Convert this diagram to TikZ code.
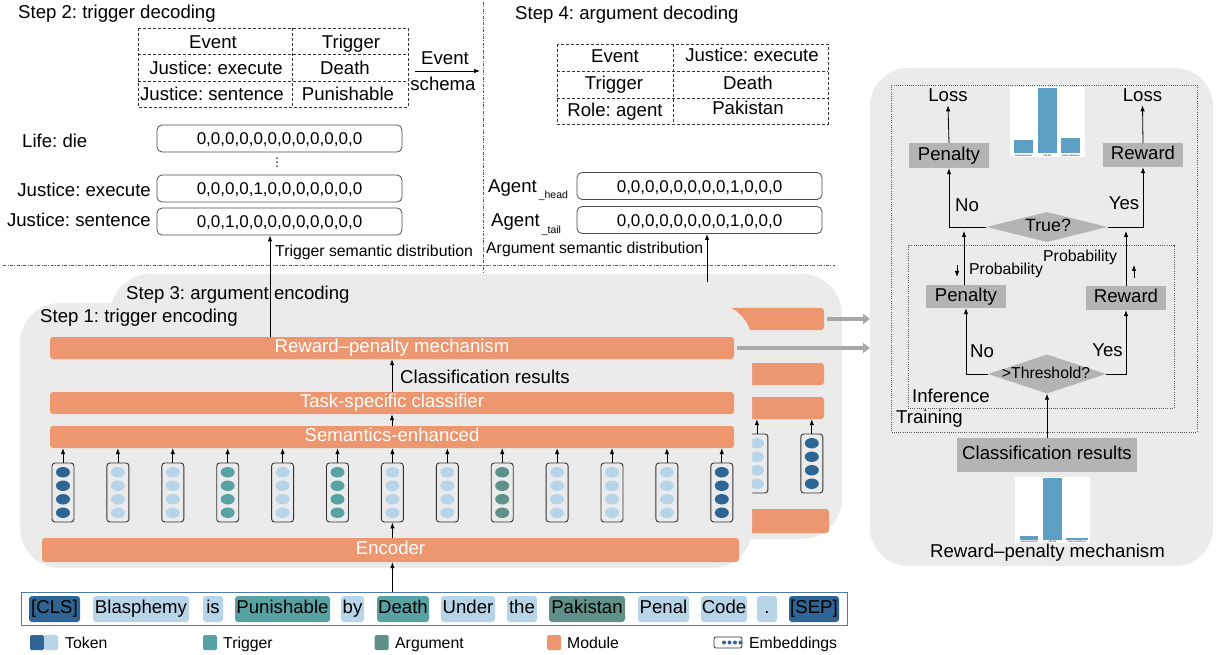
\documentclass[tikz,border=0pt]{standalone}
\usepackage{fontspec}
\setmainfont{Liberation Sans}
\newfontfamily\dejavu{DejaVu Sans}
\frenchspacing
\usetikzlibrary{arrows.meta,shapes.geometric,calc}
\definecolor{panel}{HTML}{EBEBEB}
\definecolor{module}{HTML}{EC976F}
\definecolor{tokdark}{HTML}{2F6594}
\definecolor{toklight}{HTML}{B8D4E8}
\definecolor{trig}{HTML}{58A2A3}
\definecolor{argc}{HTML}{5F918A}
\definecolor{boxgray}{HTML}{B4B4B4}
\definecolor{arrgray}{HTML}{A8A8A8}
\definecolor{rowblue}{HTML}{4F7AAE}
\definecolor{barblue}{HTML}{5C9FC2}
\newcommand{\bigf}{\fontsize{18.6}{21}\selectfont}
\newcommand{\smallf}{\fontsize{15.8}{18}\selectfont}
\newcommand{\digf}{\fontsize{17}{19}\selectfont}
\newcommand{\subf}{\fontsize{10.5}{12}\selectfont}
\newcommand{\tinyf}{\fontsize{2.4}{3}\selectfont}
\tikzset{
  txt/.style={font=\bigf, inner sep=0pt},
  stxt/.style={font=\smallf, inner sep=0pt},
  tall/.style={text height=13.4pt, text depth=3.9pt},
  modbar/.style={fill=module, rounded corners=3pt, text=white, font=\bigf, inner sep=0pt, tall},
  vecbox/.style={draw=black!70, line width=0.8pt, rounded corners=5pt, fill=white, font=\digf, inner sep=0pt, text height=12.2pt, text depth=0pt, minimum width=245pt, minimum height=27pt},
  embbox/.style={draw=black!80, line width=0.9pt, rounded corners=3pt, minimum width=22pt, minimum height=59pt, inner sep=0pt},
  bead/.style={ellipse, minimum width=14pt, minimum height=10.5pt, inner sep=0pt},
  chip/.style={rounded corners=3pt, font=\bigf, inner sep=0pt, tall, minimum height=26pt},
  graybox/.style={fill=boxgray, font=\bigf, inner sep=0pt, tall},
  decision/.style={diamond, fill=boxgray, inner sep=0pt},
  ar/.style={-{Latex[length=6pt,width=4.5pt]}, line width=0.8pt},
  garr/.style={draw=arrgray, line width=4pt, -{Triangle[length=7pt,width=10pt]}},
  divline/.style={draw=black!65, line width=0.6pt, dash pattern=on 3pt off 1.5pt on 0.8pt off 1.5pt},
  tabline/.style={draw=black!80, line width=0.8pt, dash pattern=on 3pt off 2pt},
  dotbox/.style={draw=black!65, line width=0.6pt, dash pattern=on 1pt off 1.2pt},
  legsq/.style={rounded corners=1.5pt, minimum width=14pt, minimum height=15pt, inner sep=0pt},
}
\begin{document}
\begin{tikzpicture}[x=1pt,y=-1pt]
\useasboundingbox (0,0) rectangle (1219,655);

% ---------- dividers ----------
\coordinate (vtop) at (483,2);
\coordinate (vbot) at (483,276);
\draw[divline] (vtop) -- (vbot);
\coordinate (hleft) at (3,265);
\coordinate (hright) at (835,265);
\draw[divline] (hleft) -- (hright);

% ---------- back panel (step 3) ----------
\begin{scope}[shift={(90,-29)}]
  \fill[panel, rounded corners=40pt] (20,303) rectangle (752,568);
  \node[modbar, minimum width=684pt, minimum height=22pt] (brp) at (392,348) {};
  \node[modbar, minimum width=684pt, minimum height=22pt] (bts) at (392,403) {};
  \node[modbar, minimum width=684pt, minimum height=22pt] (bse) at (392,437) {};
  \node[modbar, minimum width=697pt, minimum height=24pt] (benc) at (390.5,550) {};
  \foreach \i/\c in {0/tokdark,1/toklight,2/toklight,3/trig,4/toklight,5/trig,6/toklight,7/toklight,8/argc,9/toklight,10/toklight,11/toklight,12/tokdark}{
    \node[embbox] (be\i) at ({63+54.9*\i},492.5) {};
    \foreach \d [count=\k] in {-20.25,-6.75,6.75,20.25}
      \node[bead, fill=\c] (be\i b\k) at ($(be\i)+(0,\d)$) {};
    \draw[ar] (be\i.north) -- (be\i.north |- bse.south);
  }
  \draw[ar] (be6.south |- benc.north) -- (be6.south);
  \draw[ar] (bse.north) -- (bts.south);
  \draw[ar] (bts.north) -- (brp.south);
\end{scope}
\coordinate (rpin0) at (870,319);
\draw[garr] ($(brp.east)+(3,0)$) -- (rpin0);

% ---------- front panel (step 1) ----------
\fill[panel, rounded corners=40pt] (20,303) rectangle (752,568);
\node[txt, anchor=base west] (s3) at (126,299) {Step 3: argument encoding};
\node[txt, anchor=base west] (s1) at (40,323) {Step 1: trigger encoding};
\node[modbar, minimum width=684pt, minimum height=22pt] (rp) at (392,348) {Reward–penalty mechanism};
\node[modbar, minimum width=684pt, minimum height=22pt] (ts) at (392,403) {Task-specific classifier};
\node[modbar, minimum width=684pt, minimum height=22pt] (se) at (392,437) {Semantics-enhanced};
\node[modbar, minimum width=697pt, minimum height=24pt] (enc) at (390.5,550) {Encoder};
\foreach \i/\c in {0/tokdark,1/toklight,2/toklight,3/trig,4/toklight,5/trig,6/toklight,7/toklight,8/argc,9/toklight,10/toklight,11/toklight,12/tokdark}{
  \node[embbox] (e\i) at ({63+54.9*\i},492.5) {};
  \foreach \d [count=\k] in {-20.25,-6.75,6.75,20.25}
    \node[bead, fill=\c] (e\i b\k) at ($(e\i)+(0,\d)$) {};
  \draw[ar] (e\i.north) -- (e\i.north |- se.south);
}
\draw[ar] (e6.south |- enc.north) -- (e6.south);
\draw[ar] (se.north) -- (ts.south);
\draw[ar] (ts.north) -- (rp.south);
\node[txt, anchor=base west] (clsres) at (400,383) {Classification results};
\coordinate (rpin1) at (870,348);
\draw[garr] ($(rp.east)+(3,0)$) -- (rpin1);

% ---------- top left: trigger decoding ----------
\node[txt, anchor=base west] (s2) at (18,19) {Step 2: trigger decoding};
\draw[tabline] (138,28) rectangle (408,107);
\draw[tabline] (292,28) -- (292,107);
\draw[tabline] (138,54) -- (408,54);
\draw[tabline] (138,81) -- (408,81);
\node[txt, anchor=base] (t1a) at (213,49) {Event};
\node[txt, anchor=base] (t1b) at (351,49) {Trigger};
\node[txt, anchor=base] (t1c) at (216,75) {Justice: execute};
\node[txt, anchor=base] (t1d) at (345,75) {Death};
\node[txt, anchor=base] (t1e) at (212,101) {Justice: sentence};
\node[txt, anchor=base] (t1f) at (348,101) {Punishable};
\coordinate (es1) at (415,71);
\coordinate (es2) at (480,71);
\draw[ar] (es1) -- (es2);
\node[txt, anchor=base] (esa) at (445,65) {Event};
\node[txt, anchor=base] (esb) at (443,91) {schema};

\node[txt, anchor=base west] (ld) at (22,148) {Life: die};
\node[vecbox] (tv1) at (279.5,138.5) {0,0,0,0,0,0,0,0,0,0,0,0};
\node[inner sep=0pt, font=\dejavu\fontsize{12}{12}\selectfont] (vd) at (277,163) {⋮};
\node[vecbox] (tv2) at (279.5,188.5) {0,0,0,0,1,0,0,0,0,0,0,0};
\node[vecbox] (tv3) at (279.5,221.5) {0,0,1,0,0,0,0,0,0,0,0,0};
\node[txt, anchor=base east] (je) at (151,197) {Justice: execute};
\node[txt, anchor=base east] (js) at (151,227) {Justice: sentence};
\node[stxt, anchor=base west] (tsd) at (275,257) {Trigger semantic distribution};
\coordinate (tx) at (270,0);
\draw[ar] (rp.north -| tx) -- (tv3.south -| tx);

% ---------- top right: argument decoding ----------
\node[txt, anchor=base west] (s4) at (515,20) {Step 4: argument decoding};
\draw[tabline] (557,44) rectangle (828,124);
\draw[tabline] (673,44) -- (673,124);
\draw[tabline] (557,71) -- (828,71);
\draw[tabline] (557,98) -- (828,98);
\node[txt, anchor=base] (t2a) at (615,63) {Event};
\node[txt, anchor=base] (t2b) at (752,62) {Justice: execute};
\node[txt, anchor=base] (t2c) at (614,90) {Trigger};
\node[txt, anchor=base] (t2d) at (748,90) {Death};
\node[txt, anchor=base] (t2e) at (615,117) {Role: agent};
\node[txt, anchor=base] (t2f) at (748,115) {Pakistan};

\node[vecbox] (av1) at (699.5,186) {0,0,0,0,0,0,0,0,1,0,0,0};
\node[vecbox] (av2) at (699.5,220) {0,0,0,0,0,0,0,0,1,0,0,0};
\node[txt, anchor=base west] (ah) at (488,193) {Agent\kern2pt\raisebox{-6pt}{\subf\_head}};
\node[txt, anchor=base west] (at) at (491,227) {Agent\kern2pt\raisebox{-7pt}{\subf\_tail}};
\node[stxt, anchor=base west] (asd) at (486,254) {Argument semantic distribution};
\coordinate (ax) at (707,282);
\draw[ar] (ax) -- (av2.south -| ax);

% ---------- right panel ----------
\node[fill=panel, rounded corners=38pt, minimum width=343pt, minimum height=498pt, inner sep=0pt] (rpanel) at (1041.5,317) {};
\draw[dotbox] (891,85) rectangle (1197,432);
\draw[dotbox] (908,245) rectangle (1174,408);
\fill[white] (1010,87) rectangle (1085,157);
\fill[barblue] (1014,140) rectangle (1033,153);
\fill[barblue] (1038,88) rectangle (1057,153);
\fill[barblue] (1061,138) rectangle (1080,153);
\node[font=\tinyf, inner sep=0pt] (c1a) at (1023.5,155.3) {Justice Execute};
\node[font=\tinyf, inner sep=0pt] (c1b) at (1047.5,155.3) {Life Die};
\node[font=\tinyf, inner sep=0pt] (c1c) at (1070.5,155.3) {Justice Sentence};

\node[graybox, minimum width=80pt, minimum height=25pt] (pen1) at (949,155.5) {Penalty};
\node[graybox, minimum width=80pt, minimum height=24pt] (rew1) at (1143,155) {Reward};
\node[txt, anchor=base] (loss1) at (948,102) {Loss};
\node[txt, anchor=base] (loss2) at (1142.5,102) {Loss};
\draw[ar] (pen1.north) -- ($(loss1.south)+(0,3)$);
\draw[ar] (rew1.north) -- ($(loss2.south)+(0,3)$);
\node[decision, minimum width=121pt, minimum height=30pt] (truedec) at (1047,227) {};
\node[inner sep=0pt, font=\fontsize{17.8}{20}\selectfont, tall] (truetxt) at (1048,227) {True?};
\draw[ar] (truedec.west) -| (pen1.south);
\draw[ar] (truedec.east) -| (rew1.south);
\node[txt, anchor=base] (no1) at (967,212) {No};
\node[txt, anchor=base] (yes1) at (1124,210) {Yes};

\node[graybox, minimum width=80pt, minimum height=23pt] (pen2) at (966,296.5) {Penalty};
\node[graybox, minimum width=80pt, minimum height=24pt] (rew2) at (1126,298) {Reward};
\draw[ar] ($(pen2.north)+(-2,0)$) -- ($(pen2.north |- truedec.west)+(-2,4)$);
\draw[ar] (rew2.north) -- ($(rew2.north |- truedec.east)+(0,4)$);
\node[stxt, anchor=base west] (prob1) at (969,275) {Probability};
\node[stxt, anchor=base west] (prob2) at (1043,262) {Probability};
\coordinate (pa1) at (957,265);
\coordinate (pa2) at (957,277);
\draw[ar] (pa1) -- (pa2);
\coordinate (pb1) at (1134,278);
\coordinate (pb2) at (1134,265);
\draw[ar] (pb1) -- (pb2);
\node[decision, minimum width=118pt, minimum height=39pt] (thr) at (1047,374) {};
\node[stxt, tall] (thrtxt) at (1046,374) {>Threshold?};
\draw[ar] (thr.west) -| (pen2.south);
\draw[ar] (thr.east) -| (rew2.south);
\node[txt, anchor=base] (no2) at (982,357) {No};
\node[txt, anchor=base] (yes2) at (1107.5,356) {Yes};
\node[txt, anchor=base west] (inf) at (912,402) {Inference};
\node[txt, anchor=base west] (trn) at (896,423) {Training};
\node[graybox, minimum width=180pt, minimum height=34pt] (crbox) at (1047,455) {Classification results};
\draw[ar] (crbox.north) -- (thr.south);
\fill[white] (1015,477) rectangle (1090,543);
\fill[barblue] (1020,536) rectangle (1038,540);
\fill[barblue] (1043,478) rectangle (1062,540);
\fill[barblue] (1066,538) rectangle (1088,540);
\node[font=\tinyf, inner sep=0pt] (c2a) at (1029,541.6) {Justice Execute};
\node[font=\tinyf, inner sep=0pt] (c2b) at (1052.5,541.6) {Life Die};
\node[font=\tinyf, inner sep=0pt] (c2c) at (1077,541.6) {Justice Sentence};
\node[txt, anchor=base] (rpm) at (1047.5,557) {Reward–penalty mechanism};

% ---------- token row ----------
\node[draw=rowblue, line width=1pt, fill=white, minimum width=826pt, minimum height=33pt, inner sep=0pt] (row) at (434,608.5) {};
\foreach \n/\t/\a/\b/\c in {cls/{[CLS]}/29/80/tokdark, w1/Blasphemy/93/189/toklight, w2/is/203/223/toklight, w3/Punishable/235/330/trig, w4/by/341/364/toklight, w5/Death/377/429/trig, w6/Under/441/495/toklight, w7/the/507/537/toklight, w8/Pakistan/549/625/argc, w9/Penal/638/689/toklight, w10/Code/701/747/toklight, w11/./757/777/toklight, sep/{[SEP]}/789/839/tokdark}
  \node[chip, fill=\c, minimum width={(\b-\a)*1pt}] (\n) at ({(\a+\b)/2},609) {\t};
\draw[ar] (e6.south |- row.north) -- (e6.south |- enc.south);

% ---------- legend ----------
\node[legsq, fill=tokdark] (lg1) at (37,642.5) {};
\node[legsq, fill=toklight] (lg2) at (51,642.5) {};
\node[stxt, anchor=base west] (lgt1) at (65,648) {Token};
\node[legsq, fill=trig] (lg3) at (210,642.5) {};
\node[stxt, anchor=base west] (lgt2) at (223,648) {Trigger};
\node[legsq, fill=argc] (lg4) at (381.5,642.5) {};
\node[stxt, anchor=base west] (lgt3) at (395,648) {Argument};
\node[legsq, fill=module] (lg5) at (554,642.5) {};
\node[stxt, anchor=base west] (lgt4) at (567,648) {Module};
\node[draw=black!80, line width=0.8pt, rounded corners=2pt, minimum width=28pt, minimum height=11pt, inner sep=0pt] (lg6) at (728,642.5) {};
\foreach \k in {1,2,3,4}
  \node[circle, fill=tokdark, minimum size=4pt, inner sep=0pt] (lg6d\k) at ({718.5+5.5*\k},642.5) {};
\node[stxt, anchor=base west] (lgt5) at (749,648) {Embeddings};
\end{tikzpicture}
\end{document}
